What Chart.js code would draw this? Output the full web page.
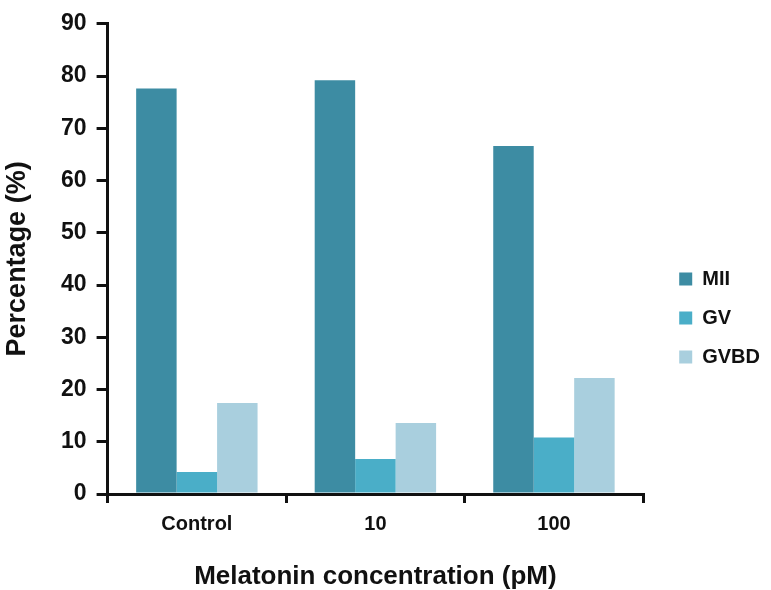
<!DOCTYPE html>
<html>
<head>
<meta charset="utf-8">
<script src="https://cdn.jsdelivr.net/npm/chart.js@4"></script>
<style>
  html, body { margin: 0; padding: 0; background: #fff; }
  #wrap { width: 771px; height: 590px; }
</style>
</head>
<body>
<div id="wrap"><canvas id="myChart" width="771" height="590"></canvas></div>
<script>
// data
const categories = ['Control', '10', '100'];
const mii = [77.6, 79.2, 66.6];
const gv = [4.2, 6.7, 10.8];
const gvbd = [17.4, 13.6, 22.2];
const yTicks = [0, 10, 20, 30, 40, 50, 60, 70, 80, 90];

const font = 'Arial, "Liberation Sans", sans-serif';

// nudge the legend a bit right/down, like in the figure
const legendNudge = {
  id: 'legendNudge',
  afterLayout(chart) {
    const lg = chart.legend;
    lg.left += 17; lg.right += 17;
    lg.top += 18; lg.bottom += 18;
  }
};

let ctx = document.getElementById('myChart').getContext('2d');

new Chart(ctx, {
  type: 'bar',
  data: {
    labels: categories,
    datasets: [
      { label: 'MII', data: mii, backgroundColor: '#3d8ca3' },
      { label: 'GV', data: gv, backgroundColor: '#4aaec8' },
      { label: 'GVBD', data: gvbd, backgroundColor: '#a9cfde' }
    ]
  },
  plugins: [legendNudge],
  options: {
    responsive: false,
    animation: false,
    layout: { padding: { top: 10, right: 18, bottom: 0, left: 4 } },
    datasets: {
      bar: { categoryPercentage: 0.68, barPercentage: 1.0 }
    },
    plugins: {
      tooltip: { enabled: false },
      legend: {
        position: 'right',
        align: 'center',
        labels: {
          boxWidth: 13,
          boxHeight: 13,
          padding: 19,
          color: '#111',
          font: { family: font, size: 20, weight: 'bold' }
        }
      }
    },
    scales: {
      x: {
        grid: { display: true, drawOnChartArea: false, offset: true, color: '#111', lineWidth: 3, tickLength: 9 },
        border: { display: true, color: '#111', width: 3 },
        ticks: { color: '#111', padding: 9, font: { family: font, size: 20, weight: 'bold' } },
        title: {
          display: true,
          text: 'Melatonin concentration (pM)',
          color: '#111',
          padding: { top: 19, bottom: 0 },
          font: { family: font, size: 26, weight: 'bold', lineHeight: 1 }
        }
      },
      y: {
        min: 0,
        max: 90,
        afterBuildTicks: axis => { axis.ticks = yTicks.map(v => ({ value: v })); },
        grid: { display: true, drawOnChartArea: false, color: '#111', lineWidth: 3, tickLength: 11 },
        border: { display: true, color: '#111', width: 3 },
        ticks: { color: '#111', padding: 10, font: { family: font, size: 23, weight: 'bold' } },
        title: {
          display: true,
          text: 'Percentage (%)',
          color: '#111',
          padding: { top: 0, bottom: 20 },
          font: { family: font, size: 27, weight: 'bold', lineHeight: 1 }
        }
      }
    }
  }
});
</script>
</body>
</html>
